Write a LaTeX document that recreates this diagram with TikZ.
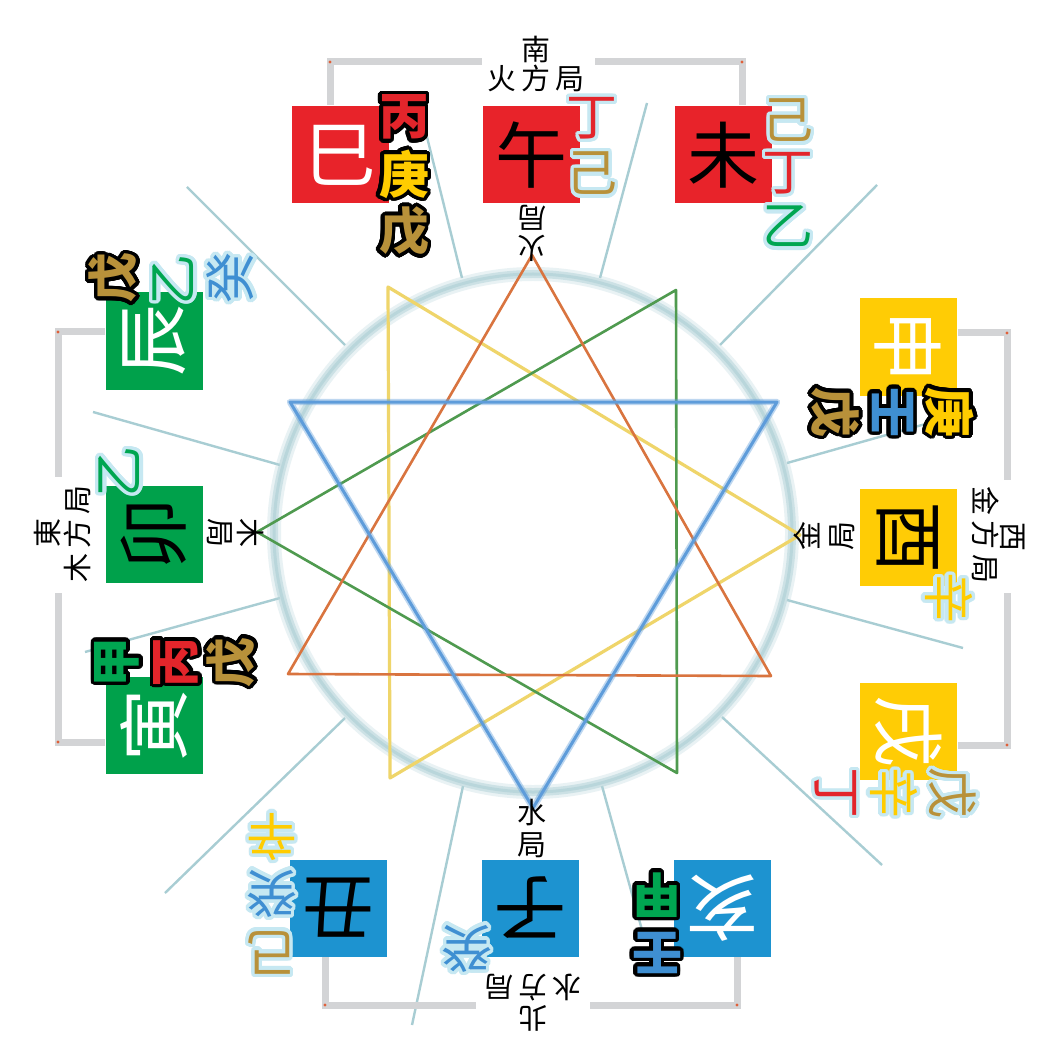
\documentclass[tikz,border=0pt]{standalone}
\usepackage{fontspec}
\usepackage[copies]{contour}
\newfontfamily\cjk{Noto Sans CJK TC}
\contournumber{32}
\definecolor{bred}{HTML}{E8232A}
\definecolor{bgreen}{HTML}{00A14B}
\definecolor{byellow}{HTML}{FFCC05}
\definecolor{bblue}{HTML}{1D93D0}
\definecolor{sred}{HTML}{E3252B}
\definecolor{syellow}{HTML}{FFCC00}
\definecolor{sgold}{HTML}{B8913A}
\definecolor{sgreen}{HTML}{00A651}
\definecolor{sblue}{HTML}{3F8FD2}
\definecolor{lblue}{HTML}{C6E8F2}
\definecolor{brk}{HTML}{D3D4D6}
\definecolor{rad}{HTML}{A8CDD3}
\definecolor{ringc}{HTML}{B9D6DB}
\definecolor{tor}{HTML}{D9743F}
\definecolor{tgr}{HTML}{4F9A4F}
\definecolor{tye}{HTML}{EFD56A}
\definecolor{tbl}{HTML}{5E9CDA}
\definecolor{dotc}{HTML}{E0603A}
\newcommand\hsb[2]{{\contourlength{1.8pt}\textcolor{#1}{\contour{black}{#2}}}}
\newcommand\hsl[2]{{\contourlength{1.7pt}\textcolor{#1}{\contour{lblue}{#2}}}}
\begin{document}
\begin{tikzpicture}[x=0.5pt,y=-0.5pt,
  box/.style={minimum size=48.5pt,inner sep=0pt,outer sep=0pt,font=\cjk\fontsize{36}{36}\selectfont},
  stb/.style={inner sep=0pt,font=\cjk\bfseries\fontsize{25}{25}\selectfont},
  stl/.style={inner sep=0pt,font=\cjk\fontsize{25.5}{25.5}\selectfont},
  lab/.style={inner sep=0pt,font=\cjk\fontsize{14.5}{14.5}\selectfont},
  bracket/.style={draw=brk,line width=3.5pt,line join=miter},
  radial/.style={draw=rad,line width=1.2pt},
  cdot/.style={fill=dotc,radius=0.8pt}]
\fill[white] (0,0) rectangle (1063,1063);
\useasboundingbox (0,0) rectangle (1063,1063);

% radial separators
\draw[radial] (462,278) -- (427,137);
\draw[radial] (600,278) -- (647,103);
\draw[radial] (720,345) -- (877,185);
\draw[radial] (787,463) -- (968,412);
\draw[radial] (787,600) -- (963,648);
\draw[radial] (722,717) -- (882,865);
\draw[radial] (602,786) -- (642,930);
\draw[radial] (463,786) -- (412,1025);
\draw[radial] (345,718) -- (165,893);
\draw[radial] (280,598) -- (85,652);
\draw[radial] (280,465) -- (93,412);
\draw[radial] (345,345) -- (187,187);

% ring
\coordinate (c) at (533,533);
\draw[ringc,opacity=0.3,line width=7pt] (c) circle[radius=129.5pt];
\draw[ringc,opacity=0.6,line width=4pt] (c) circle[radius=129.5pt];
\draw[ringc,line width=1.5pt] (c) circle[radius=129.5pt];

% triangles
\draw[tye,line width=1.6pt,line join=round] (388,287) -- (390,778) -- (800,535) -- cycle;
\draw[tgr,line width=1.3pt,line join=round] (257,532) -- (676,290) -- (677,773) -- cycle;
\draw[tor,line width=1.3pt,line join=round] (532,255) -- (288,674) -- (771,676) -- cycle;
\draw[tbl,opacity=0.4,line width=3.2pt,line join=round] (290,402) -- (777,402) -- (533,808) -- cycle;
\draw[tbl,line width=1.5pt,line join=round] (290,402) -- (777,402) -- (533,808) -- cycle;

% brackets
\draw[bracket] (330,105) -- (330,62) -- (482,62);
\draw[bracket] (595,62) -- (742,62) -- (742,105);
\draw[bracket] (958,333) -- (1007,333) -- (1007,480);
\draw[bracket] (1007,593) -- (1007,745) -- (958,745);
\draw[bracket] (325,957) -- (325,1005) -- (476,1005);
\draw[bracket] (590,1005) -- (737,1005) -- (737,957);
\draw[bracket] (105,332) -- (58,332) -- (58,477);
\draw[bracket] (58,593) -- (58,742) -- (105,742);
\fill[cdot] (330,62) circle; \fill[cdot] (742,62) circle;
\fill[cdot] (1007,333) circle; \fill[cdot] (1007,745) circle;
\fill[cdot] (325,1005) circle; \fill[cdot] (737,1005) circle;
\fill[cdot] (58,332) circle; \fill[cdot] (58,742) circle;

% direction labels
\node[lab] (s1) at (536,49) {南};
\node[lab] (s2) at (536,78) {火\,方\,局};
\node[lab,rotate=180] (n1) at (533,1018) {北};
\node[lab,rotate=180] (n2) at (533,988) {水\,方\,局};
\node[lab,rotate=90] (e1) at (47,533) {東};
\node[lab,rotate=90] (e2) at (77,534) {木\,方\,局};
\node[lab,rotate=-90] (w1) at (1013,537) {西};
\node[lab,rotate=-90] (w2) at (986,535) {金\,方\,局};

% inner labels
\node[lab,rotate=180] (f1) at (532,218) {局};
\node[lab,rotate=180] (f2) at (532,248) {火};
\node[lab] (wa1) at (532,813) {水};
\node[lab] (wa2) at (532,845) {局};
\node[lab,rotate=-90] (m1) at (251,533) {木};
\node[lab,rotate=-90] (m2) at (220,533) {局};
\node[lab,rotate=90] (g1) at (807,536) {金};
\node[lab,rotate=90] (g2) at (842,536) {局};

% branch boxes
\node[box,fill=bred,text=white] (si) at (340,155) {巳};
\node[box,fill=bred,text=black] (wu) at (531,155) {午};
\node[box,fill=bred,text=black] (wei) at (723,155) {未};
\node[box,fill=byellow,text=white,rotate=-90] (shen) at (908,347) {申};
\node[box,fill=byellow,text=black,rotate=-90] (you) at (908,537) {酉};
\node[box,fill=byellow,text=white,rotate=-90] (xu) at (908,731) {戌};
\node[box,fill=bblue,text=black,rotate=180] (chou) at (338,908) {丑};
\node[box,fill=bblue,text=black,rotate=180] (zi) at (530,908) {子};
\node[box,fill=bblue,text=white,rotate=180] (hai) at (722,908) {亥};
\node[box,fill=bgreen,text=white,rotate=90] (chen) at (154,341) {辰};
\node[box,fill=bgreen,text=black,rotate=90] (mao) at (154,534) {卯};
\node[box,fill=bgreen,text=white,rotate=90] (yin) at (154,725) {寅};

% hidden stems, top
\node[stb] (si1) at (404,119) {\hsb{sred}{丙}};
\node[stb] (si2) at (404,176) {\hsb{syellow}{庚}};
\node[stb] (si3) at (404,233) {\hsb{sgold}{戊}};
\node[stl] (wu1) at (592,120) {\hsl{sred}{丁}};
\node[stl] (wu2) at (592,175) {\hsl{sgold}{己}};
\node[stl] (wei1) at (788,122) {\hsl{sgold}{己}};
\node[stl] (wei2) at (788,175) {\hsl{sred}{丁}};
\node[stl] (wei3) at (788,228) {\hsl{sgreen}{乙}};
% right
\node[stb,rotate=-90] (shen1) at (948,412) {\hsb{syellow}{庚}};
\node[stb,rotate=-90] (shen2) at (891,412) {\hsb{sblue}{壬}};
\node[stb,rotate=-90] (shen3) at (833,412) {\hsb{sgold}{戊}};
\node[stl,rotate=-90] (you1) at (947,598) {\hsl{syellow}{辛}};
\node[stl,rotate=-90] (xu1) at (951,793) {\hsl{sgold}{戊}};
\node[stl,rotate=-90] (xu2) at (892,793) {\hsl{syellow}{辛}};
\node[stl,rotate=-90] (xu3) at (834,793) {\hsl{sred}{丁}};
% bottom
\node[stl,rotate=180] (chou1) at (272,951) {\hsl{sgold}{己}};
\node[stl,rotate=180] (chou2) at (272,892) {\hsl{sblue}{癸}};
\node[stl,rotate=180] (chou3) at (272,835) {\hsl{syellow}{辛}};
\node[stl,rotate=180] (zi1) at (467,947) {\hsl{sblue}{癸}};
\node[stb,rotate=180] (hai1) at (657,951) {\hsb{sblue}{壬}};
\node[stb,rotate=180] (hai2) at (657,893) {\hsb{sgreen}{甲}};
% left
\node[stb,rotate=90] (chen1) at (115,278) {\hsb{sgold}{戊}};
\node[stl,rotate=90] (chen2) at (175,280) {\hsl{sgreen}{乙}};
\node[stl,rotate=90] (chen3) at (232,278) {\hsl{sblue}{癸}};
\node[stl,rotate=90] (mao1) at (121,472) {\hsl{sgreen}{乙}};
\node[stb,rotate=90] (yin1) at (119,662) {\hsb{sgreen}{甲}};
\node[stb,rotate=90] (yin2) at (178,662) {\hsb{sred}{丙}};
\node[stb,rotate=90] (yin3) at (233,662) {\hsb{sgold}{戊}};
\end{tikzpicture}
\end{document}
